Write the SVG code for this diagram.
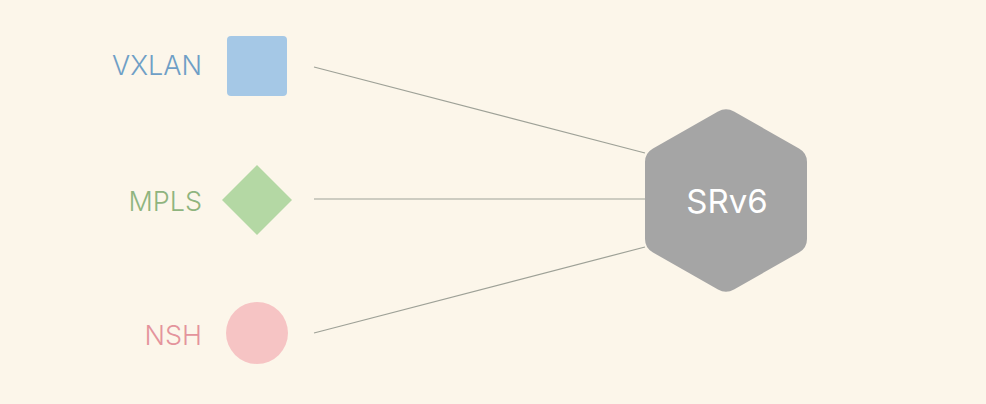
<svg xmlns="http://www.w3.org/2000/svg" width="986" height="404" viewBox="0 0 986 404">
<style>
.lbl{font-family:"Inter","Liberation Sans",sans-serif;font-size:27px;font-weight:300;text-anchor:end}
.conn line{stroke:#9ea197;stroke-width:1.2}
</style>
<rect width="986" height="404" fill="#fcf6ea"/>
<g id="connectors" class="conn">
<line x1="314" y1="67" x2="645" y2="153"/>
<line x1="314" y1="199" x2="645" y2="199"/>
<line x1="314" y1="333" x2="645" y2="247"/>
</g>
<g id="vxlan">
<rect x="227" y="36" width="60" height="60" rx="4" fill="#a5c8e6"/>
<text class="lbl" x="202" y="75" fill="#6f9fc6">VXLAN</text>
</g>
<g id="mpls">
<polygon points="257,165 292,200 257,235 222,200" fill="#b4d8a4"/>
<text class="lbl" x="202" y="211" fill="#8fb47e">MPLS</text>
</g>
<g id="nsh">
<circle cx="257" cy="333" r="31" fill="#f6c4c4"/>
<text class="lbl" x="202" y="345" fill="#e4949c">NSH</text>
</g>
<g id="srv6">
<path d="M718,111.5 Q726,107 734,111.5 L799,148.5 Q807,153 807,162 L807,239 Q807,248 799,252.5 L734,289.5 Q726,294 718,289.5 L653,252.5 Q645,248 645,239 L645,162 Q645,153 653,148.5 Z" fill="#a5a5a5"/>
<text x="727" y="213" font-family="Inter,'Liberation Sans',sans-serif" font-size="33" fill="#ffffff" text-anchor="middle">SRv6</text>
</g>
</svg>
